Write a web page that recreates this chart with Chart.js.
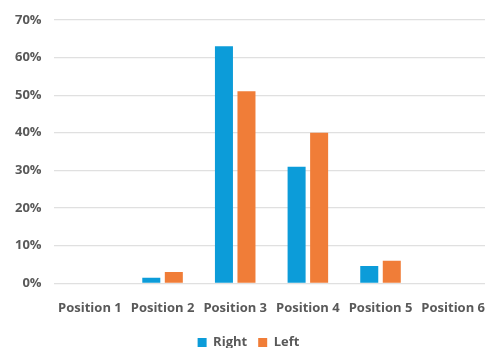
<!DOCTYPE html>
<html>
<head>
<meta charset="utf-8">
<script src="https://cdn.jsdelivr.net/npm/chart.js@4"></script>
<style>
  html, body { margin: 0; padding: 0; background: #fff; overflow: hidden; }
  #wrap { width: 494px; height: 348px; }
</style>
</head>
<body>
<div id="wrap"><canvas id="chart"></canvas></div>
<script>
const categories = ['Position 1', 'Position 2', 'Position 3', 'Position 4', 'Position 5', 'Position 6'];
const rightValues = [0, 1.5, 63, 31, 4.6, 0];
const leftValues = [0, 3, 51, 40, 6, 0];
const yTicks = [0, 10, 20, 30, 40, 50, 60, 70];

const ctx = document.getElementById('chart').getContext('2d');
const tickFont = { family: 'Open Sans', size: 13, weight: 'bold' };

new Chart(ctx, {
  type: 'bar',
  data: {
    labels: categories,
    datasets: [
      {
        label: 'Right',
        data: rightValues,
        backgroundColor: '#0c9cd9',
        categoryPercentage: 0.62,
        barPercentage: 0.8,
      },
      {
        label: 'Left',
        data: leftValues,
        backgroundColor: '#f07d38',
        categoryPercentage: 0.62,
        barPercentage: 0.8,
      },
    ],
  },
  options: {
    responsive: true,
    maintainAspectRatio: false,
    animation: false,
    layout: { padding: { top: 9, left: 3, right: 0, bottom: -11 } },
    plugins: {
      tooltip: { enabled: false },
      legend: {
        position: 'bottom',
        labels: {
          boxWidth: 9,
          boxHeight: 9,
          padding: 11,
          color: '#595959',
          font: tickFont,
        },
      },
    },
    scales: {
      x: {
        grid: { display: false },
        border: { display: false },
        ticks: {
          padding: 9,
          autoSkip: false,
          color: '#595959',
          maxRotation: 0,
          font: tickFont,
        },
      },
      y: {
        min: 0,
        max: 70,
        afterBuildTicks: (axis) => {
          axis.ticks = yTicks.map((v) => ({ value: v }));
        },
        grid: { color: '#e0e0e0', lineWidth: 1.2, drawTicks: false },
        border: { display: false },
        ticks: {
          padding: 12,
          color: '#595959',
          font: tickFont,
          callback: (v) => v + '%',
        },
      },
    },
  },
});
</script>
</body>
</html>
